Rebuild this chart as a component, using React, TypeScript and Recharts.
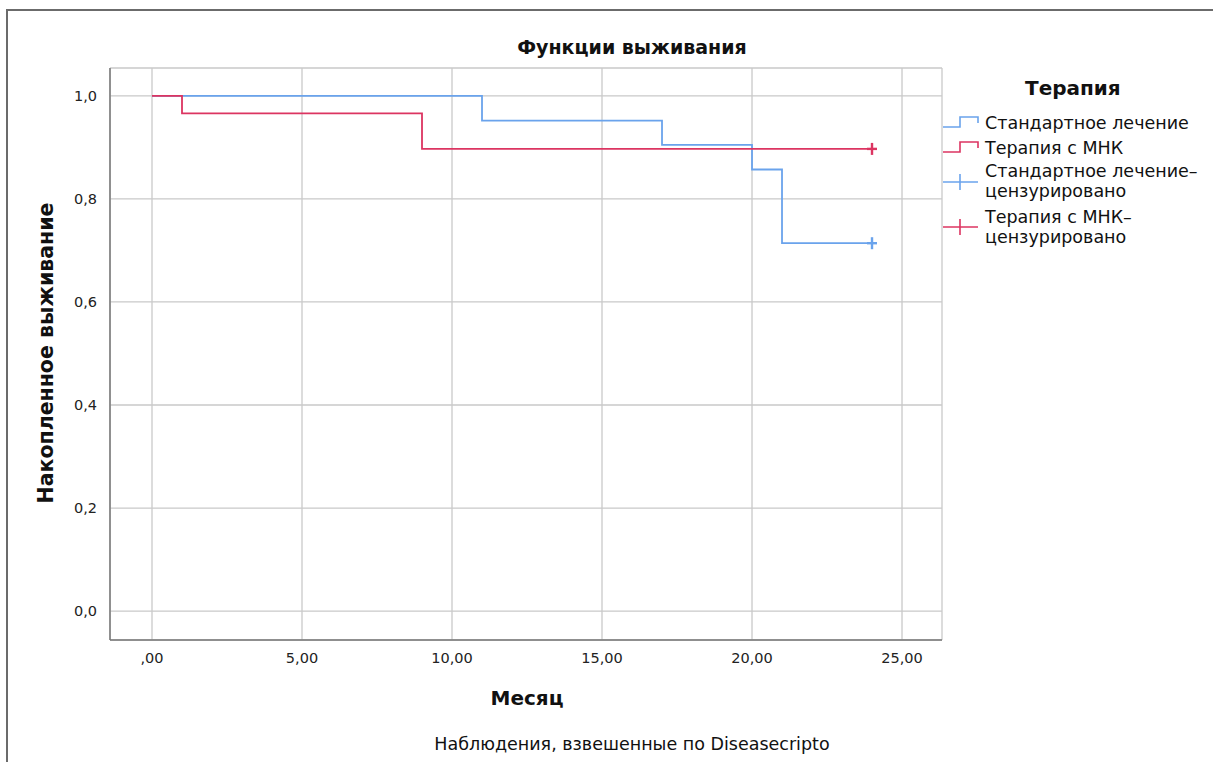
import React from 'react';
import {
  ComposedChart,
  Line,
  Scatter,
  XAxis,
  YAxis,
  CartesianGrid
} from 'recharts';

// survival steps (Kaplan-Meier), month -> cumulative survival
const standardMonths = [0, 11, 17, 20, 21, 24];
const standardSurvival = [1.0, 0.952, 0.905, 0.857, 0.714, 0.714];
const mnkMonths = [0, 1, 9, 24];
const mnkSurvival = [1.0, 0.966, 0.897, 0.897];

// censored observations
const standardCensored = [{ t: 24, s: 0.714 }];
const mnkCensored = [{ t: 24, s: 0.897 }];

const xTicks = [0, 5, 10, 15, 20, 25];
const yTicks = [0, 0.2, 0.4, 0.6, 0.8, 1.0];

const BLUE = '#6aa3ec';
const RED = '#dc3461';
const FONT = '"DejaVu Sans", sans-serif';

const standardData = standardMonths.map((t, i) => ({ t, s: standardSurvival[i] }));
const mnkData = mnkMonths.map((t, i) => ({ t, s: mnkSurvival[i] }));

const fmtX = (v: number) => (v === 0 ? ',00' : v.toFixed(2).replace('.', ','));
const fmtY = (v: number) => v.toFixed(1).replace('.', ',');

const XTick = (props: any) => {
  const { x, y, payload } = props;
  return (
    <text x={x} y={y + 17} textAnchor="middle" fill="#222" fontSize={14.5} fontFamily={FONT}>
      {fmtX(payload.value)}
    </text>
  );
};

const YTick = (props: any) => {
  const { x, y, payload } = props;
  return (
    <text x={x - 1} y={y + 5} textAnchor="end" fill="#222" fontSize={14.5} fontFamily={FONT}>
      {fmtY(payload.value)}
    </text>
  );
};

const Plus = (color: string) => (props: any) => {
  const { cx, cy } = props;
  return (
    <g stroke={color} strokeWidth={2.4}>
      <line x1={cx - 5} y1={cy} x2={cx + 5} y2={cy} />
      <line x1={cx} y1={cy - 6} x2={cx} y2={cy + 6} />
    </g>
  );
};

const StepIcon = ({ color }: { color: string }) => (
  <svg width={38} height={16} style={{ flex: 'none' }}>
    <polyline
      points="0,12 17,12 17,2 35,2 35,8"
      fill="none"
      stroke={color}
      strokeWidth={1.6}
    />
  </svg>
);

const CensorIcon = ({ color }: { color: string }) => (
  <svg width={38} height={20} style={{ flex: 'none' }}>
    <line x1={0} y1={10} x2={35} y2={10} stroke={color} strokeWidth={1.6} />
    <line x1={17} y1={2} x2={17} y2={18} stroke={color} strokeWidth={1.6} />
  </svg>
);

const TherapyLegend = () => (
  <div style={{ position: 'absolute', left: 943, top: 76, width: 270, fontFamily: FONT, color: '#111' }}>
    <div style={{ fontWeight: 'bold', fontSize: 20, position: 'absolute', left: 82, top: 0, whiteSpace: 'nowrap' }}>
      Терапия
    </div>
    <div style={{ position: 'absolute', left: 0, top: 37, display: 'flex', alignItems: 'center', fontSize: 17.5, lineHeight: '20px', whiteSpace: 'nowrap' }}>
      <StepIcon color={BLUE} />
      <span style={{ marginLeft: 4 }}>Стандартное лечение</span>
    </div>
    <div style={{ position: 'absolute', left: 0, top: 62, display: 'flex', alignItems: 'center', fontSize: 17.5, lineHeight: '20px', whiteSpace: 'nowrap' }}>
      <StepIcon color={RED} />
      <span style={{ marginLeft: 4 }}>Терапия с МНК</span>
    </div>
    <div style={{ position: 'absolute', left: 0, top: 86, display: 'flex', alignItems: 'center', fontSize: 17.5, lineHeight: '19.5px', whiteSpace: 'nowrap' }}>
      <CensorIcon color={BLUE} />
      <span style={{ marginLeft: 4 }}>Стандартное лечение–<br />цензурировано</span>
    </div>
    <div style={{ position: 'absolute', left: 0, top: 131, display: 'flex', alignItems: 'center', fontSize: 17.5, lineHeight: '20px', whiteSpace: 'nowrap' }}>
      <CensorIcon color={RED} />
      <span style={{ marginLeft: 4 }}>Терапия с МНК–<br />цензурировано</span>
    </div>
  </div>
);

export default function App() {
  return (
    <div style={{ position: 'absolute', left: 0, top: 0, width: 1213, height: 762, background: '#fff', overflow: 'hidden' }}>
      {/* frame */}
      <div style={{ position: 'absolute', left: 6, top: 9, width: 1220, height: 800, borderLeft: '2px solid #6b6b6b', borderTop: '2px solid #6b6b6b' }} />
      <div style={{ position: 'absolute', left: 0, top: 36, width: 1264, textAlign: 'center', fontFamily: FONT, fontWeight: 'bold', fontSize: 19, color: '#111' }}>
        Функции выживания
      </div>
      <ComposedChart
        width={1213}
        height={762}
        margin={{ top: 68, right: 271, left: 60, bottom: 92 }}
        style={{ position: 'absolute', left: 0, top: 0 }}
      >
        <CartesianGrid stroke="#c9c9c9" strokeWidth={1.3} />
        <XAxis
          dataKey="t"
          type="number"
          domain={[-1.4, 26.333]}
          ticks={xTicks}
          allowDataOverflow
          height={30}
          tickLine={false}
          tickMargin={0}
          axisLine={{ stroke: '#777', strokeWidth: 1.5 }}
          tick={<XTick />}
        />
        <YAxis
          dataKey="s"
          type="number"
          domain={[-0.056, 1.054]}
          ticks={yTicks}
          allowDataOverflow
          width={50}
          tickLine={false}
          tickMargin={6}
          axisLine={{ stroke: '#777', strokeWidth: 1.5 }}
          tick={<YTick />}
        />
        <Line
          data={standardData}
          dataKey="s"
          type="stepAfter"
          stroke={BLUE}
          strokeWidth={1.8}
          dot={false}
          activeDot={false}
          isAnimationActive={false}
        />
        <Line
          data={mnkData}
          dataKey="s"
          type="stepAfter"
          stroke={RED}
          strokeWidth={1.8}
          dot={false}
          activeDot={false}
          isAnimationActive={false}
        />
        <Scatter data={standardCensored} dataKey="s" shape={Plus(BLUE)} isAnimationActive={false} />
        <Scatter data={mnkCensored} dataKey="s" shape={Plus(RED)} isAnimationActive={false} />
      </ComposedChart>
      <TherapyLegend />
      <div style={{ position: 'absolute', left: 0, top: 686, width: 1054, textAlign: 'center', fontFamily: FONT, fontWeight: 'bold', fontSize: 20, color: '#111' }}>
        Месяц
      </div>
      <div style={{ position: 'absolute', left: 0, top: 734, width: 1264, textAlign: 'center', fontFamily: FONT, fontSize: 17.5, color: '#111' }}>
        Наблюдения, взвешенные по Diseasecripto
      </div>
      <div
        style={{
          position: 'absolute',
          left: 46,
          top: 353,
          transform: 'translate(-50%, -50%) rotate(-90deg)',
          whiteSpace: 'nowrap',
          fontFamily: FONT,
          fontWeight: 'bold',
          fontSize: 20.5,
          color: '#111'
        }}
      >
        Накопленное выживание
      </div>
    </div>
  );
}
